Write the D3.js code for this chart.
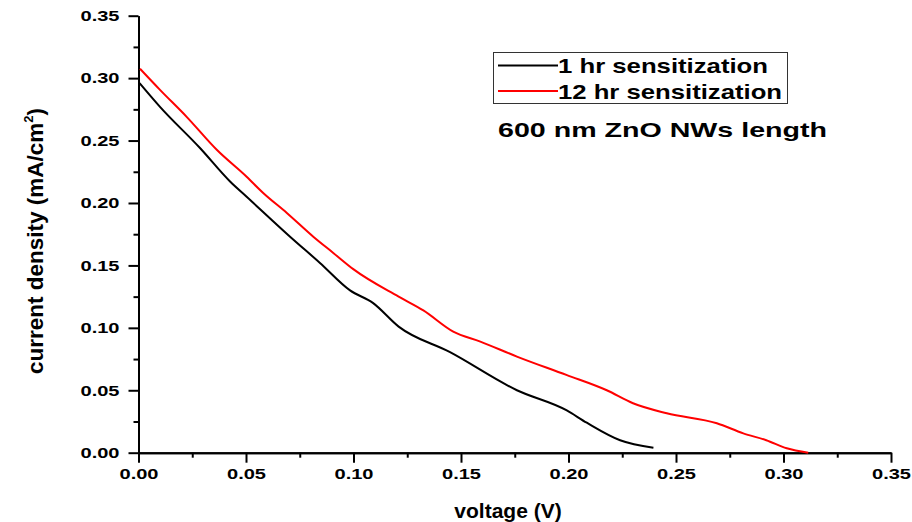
<!DOCTYPE html>
<html>
<head>
<meta charset="utf-8">
<script src="https://cdn.jsdelivr.net/npm/d3@7"></script>
<style>
  body { margin: 0; background: #fff; }
  svg { display: block; }
  text { font-family: "Liberation Sans", Arial, sans-serif; font-weight: bold; }
</style>
</head>
<body>
<div class="svg-container"></div>
<script>
// values
const voltage1 = [0.0005, 0.010, 0.0286, 0.0427, 0.0503, 0.0705, 0.0844, 0.0984, 0.109, 0.121, 0.1449, 0.176, 0.199, 0.2085, 0.224, 0.2395];
const current1 = [0.296, 0.277, 0.244, 0.217, 0.205, 0.173, 0.152, 0.130, 0.120, 0.101, 0.0805, 0.050, 0.034, 0.024, 0.010, 0.004];

const voltage2 = [0.0007, 0.010, 0.0224, 0.0364, 0.0503, 0.058, 0.069, 0.0813, 0.0906, 0.0999, 0.121, 0.1325, 0.1464, 0.159, 0.176, 0.199, 0.2178, 0.230, 0.2457, 0.269, 0.2813, 0.292, 0.3015, 0.3115];
const current2 = [0.3075, 0.2906, 0.269, 0.2426, 0.221, 0.208, 0.192, 0.173, 0.160, 0.147, 0.125, 0.114, 0.097, 0.089, 0.077, 0.0623, 0.050, 0.0396, 0.0316, 0.0236, 0.0155, 0.010, 0.0035, 0.0];

const seriesNames = ['1 hr sensitization', '12 hr sensitization'];
const seriesColours = ['#000000', '#ff0000'];

const majorTicks = [0, 0.05, 0.10, 0.15, 0.20, 0.25, 0.30, 0.35];
const minorTicks = [0.025, 0.075, 0.125, 0.175, 0.225, 0.275, 0.325];

// set up dimensions
const width = 912;
const height = 522;
const margin = { top: 15.7, right: 21, bottom: 69.3, left: 138.5 };
const innerW = width - margin.left - margin.right;
const innerH = height - margin.top - margin.bottom;

const svg = d3.select('.svg-container')
  .append('svg')
  .attr('width', width)
  .attr('height', height);

const g = svg.append('g')
  .attr('transform', `translate(${margin.left},${margin.top})`);

const x = d3.scaleLinear().domain([0, 0.35]).range([0, innerW]);
const y = d3.scaleLinear().domain([0, 0.35]).range([innerH, 0]);

// minor ticks (no labels)
g.append('g')
  .call(d3.axisLeft(y).tickValues(minorTicks).tickSize(5).tickSizeOuter(0).tickFormat(''));
g.append('g')
  .attr('transform', `translate(0,${innerH})`)
  .call(d3.axisBottom(x).tickValues(minorTicks).tickSize(5).tickSizeOuter(0).tickFormat(''));

// major axes
const yAxis = g.append('g')
  .call(d3.axisLeft(y).tickValues(majorTicks).tickSize(10).tickSizeOuter(0)
    .tickPadding(9).tickFormat(d3.format('.2f')));
const xAxis = g.append('g')
  .attr('transform', `translate(0,${innerH})`)
  .call(d3.axisBottom(x).tickValues(majorTicks).tickSize(10).tickSizeOuter(0)
    .tickPadding(6).tickFormat(d3.format('.2f')));

g.selectAll('.domain, .tick line')
  .attr('stroke', '#000')
  .attr('stroke-width', 2);

[yAxis, xAxis].forEach(ax => {
  ax.selectAll('text')
    .attr('fill', '#000')
    .style('font-size', '15px')
    .attr('textLength', 39)
    .attr('lengthAdjust', 'spacingAndGlyphs');
});

// curves
const line = d3.line()
  .x(d => x(d[0]))
  .y(d => y(d[1]))
  .curve(d3.curveMonotoneX);

const series = [
  d3.zip(voltage1, current1),
  d3.zip(voltage2, current2)
];

g.selectAll('.curve')
  .data(series)
  .enter()
  .append('path')
  .attr('class', 'curve')
  .attr('d', line)
  .attr('fill', 'none')
  .attr('stroke', (d, i) => seriesColours[i])
  .attr('stroke-width', 2);

// legend
const legend = svg.append('g');
legend.append('rect')
  .attr('x', 493.5).attr('y', 52.5)
  .attr('width', 294).attr('height', 51)
  .attr('fill', 'none')
  .attr('stroke', '#333')
  .attr('stroke-width', 1);

const legendLengths = [210, 224];
seriesNames.forEach((name, i) => {
  const cy = 65.5 + i * 25.5;
  legend.append('line')
    .attr('x1', 498).attr('x2', 558)
    .attr('y1', cy).attr('y2', cy)
    .attr('stroke', seriesColours[i])
    .attr('stroke-width', 2);
  legend.append('text')
    .attr('x', 558).attr('y', cy + 7.8)
    .style('font-size', '21px')
    .attr('textLength', legendLengths[i])
    .attr('lengthAdjust', 'spacingAndGlyphs')
    .text(name);
});

svg.append('text')
  .attr('x', 498).attr('y', 137.3)
  .style('font-size', '20.5px')
  .attr('textLength', 329)
  .attr('lengthAdjust', 'spacingAndGlyphs')
  .text('600 nm ZnO NWs length');

// axis titles
svg.append('text')
  .attr('x', 508).attr('y', 518)
  .attr('text-anchor', 'middle')
  .style('font-size', '21px')
  .text('voltage (V)');

const yTitle = svg.append('text')
  .attr('transform', 'translate(43,241) rotate(-90)')
  .attr('text-anchor', 'middle')
  .style('font-family', '"Liberation Sans Narrow", "Arial Narrow", sans-serif')
  .style('font-size', '22.5px');
yTitle.append('tspan').text('current density (mA/cm');
yTitle.append('tspan').attr('dy', -10).style('font-size', '13px').text('2');
yTitle.append('tspan').attr('dy', 10).text(')');
</script>
</body>
</html>
